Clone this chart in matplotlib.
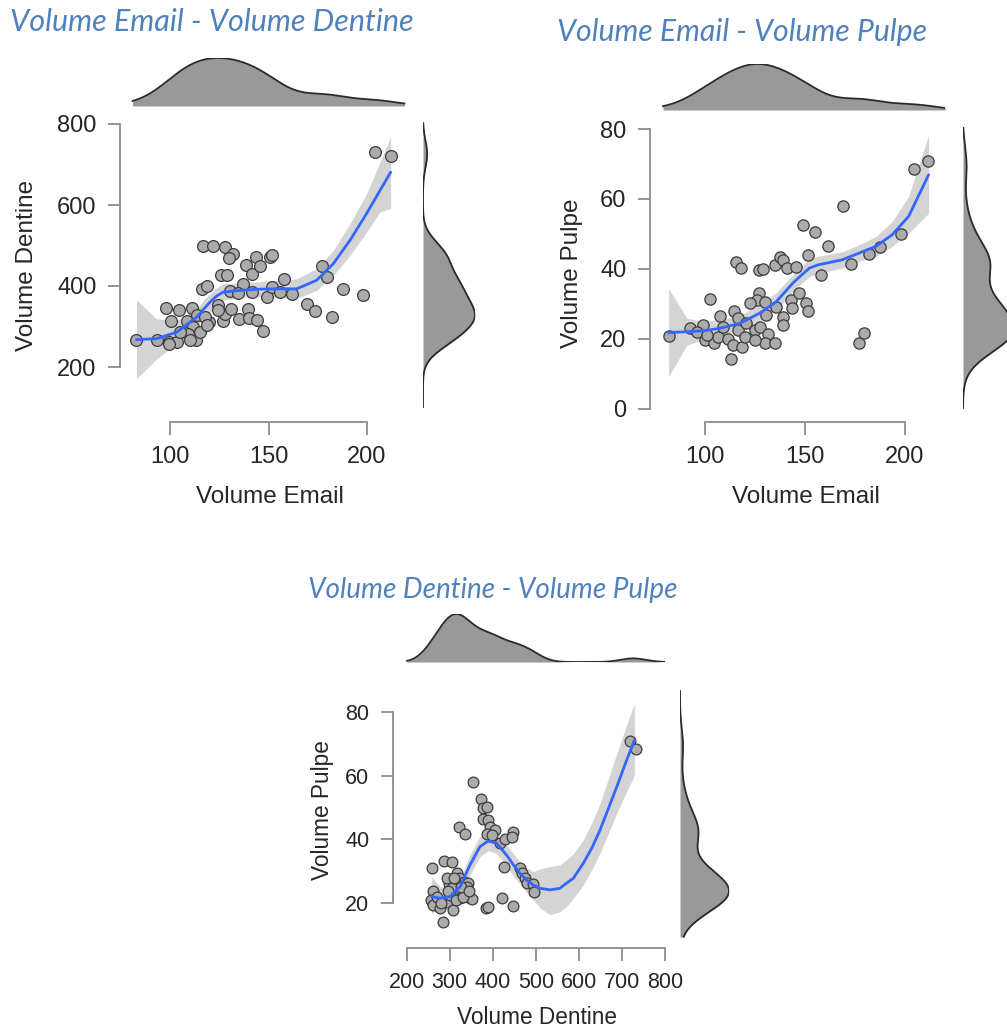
import numpy as np
import matplotlib
matplotlib.use("Agg")
import matplotlib.pyplot as plt

plt.rcParams['font.family'] = ['Liberation Sans', 'DejaVu Sans']

# panel 1 : Volume Email vs Volume Dentine
p1_email = [82.6, 93.2, 99.5, 103.7, 98, 104.6, 111, 100.3, 108.5, 113.5, 111.8, 109.3, 113, 110,
            116, 118.6, 117, 121.7, 128, 131.9, 130, 126, 129, 124.5, 120, 118, 126.7, 128, 131,
            130.5, 137, 134.7, 138.4, 141.5, 143.7, 145.7, 151, 152, 135, 139.8, 140, 144, 147,
            141.5, 149, 151.6, 155.8, 158, 161.8, 169.4, 173.6, 177.3, 179.9, 182.4, 188, 198,
            204, 212, 99.7, 105, 115, 119, 124.5]
p1_dentine = [266, 266, 262, 262, 346, 340, 346, 313, 314, 328, 299, 281, 266, 266, 393, 400,
              498, 498, 497, 480, 470, 426, 426, 352, 311, 323, 313, 332, 342, 387, 406, 383,
              452, 430, 471, 449, 471, 476, 319, 344, 322, 317, 290, 385, 373, 397, 385, 418,
              381, 355, 338, 449, 422, 323, 392, 379, 731, 720, 257, 287, 287, 303, 340]
p1_fit_x = [83, 93.2, 103.4, 113.5, 116.9, 120.3, 123.6, 127, 135.5, 144, 154.1, 164.3, 174.4,
            182.9, 191.4, 199.8, 206.6, 212]
p1_fit = [267.5, 270, 286, 323, 342, 360, 375, 385, 389, 392, 393, 393, 414, 455, 513, 579, 636, 681]
p1_lo = [171, 220, 258, 299, 320, 336, 352, 365, 371, 374, 373, 369, 389, 426, 476, 533, 583, 591]
p1_hi = [365, 319, 315, 344, 364, 381, 395, 406, 407, 410, 414, 418, 443, 488, 554, 628, 706, 768]

# panel 2 : Volume Email vs Volume Pulpe
p2_email = [81.8, 92.5, 99.2, 95.9, 100, 104.5, 102.5, 107.5, 106.6, 111.3, 114.4, 115.4, 118.2,
            113.2, 114, 116.6, 118.5, 116.6, 119.9, 120.7, 124.8, 127, 129, 127, 126, 129.8,
            127.3, 130.6, 131.5, 129.8, 134.8, 135.6, 135.1, 137.3, 139.2, 141, 145.5, 139.2,
            139.2, 143, 143.5, 146.9, 150.5, 151.3, 148.8, 151.3, 155.1, 158, 161.3, 169.2,
            173.2, 177, 179.5, 182, 187.7, 198, 204.3, 211.4, 122.4, 124.8, 109.1, 100.8]
p2_pulpe = [20.8, 23, 24, 22, 19.7, 18.7, 31.3, 26.5, 20.6, 19.8, 28, 42, 40.2, 14.1, 18.2, 22.5,
            17.6, 25.9, 20.6, 24.4, 22.5, 39.7, 39.9, 33, 31.1, 30.6, 23.5, 26.8, 21.4, 18.9,
            18.9, 29.2, 41.1, 43.5, 42.6, 40.2, 40.5, 26.3, 24, 31.1, 28.7, 33.2, 30.2, 28, 52.6,
            44, 50.4, 38.3, 46.4, 58.1, 41.4, 18.9, 21.6, 44.2, 46.2, 50, 68.5, 70.9, 30.2, 19.7,
            23.5, 21.1]
p2_fit_x = [81.8, 90.9, 99.2, 107.5, 117.4, 127.3, 135.6, 143.9, 148, 152.2, 156.3, 160.4, 168.7,
            177, 185.3, 193.5, 201.8, 211.8]
p2_fit = [21.8, 22, 22.3, 23, 24.4, 27.3, 30.6, 35.9, 38.1, 40.2, 41.1, 41.6, 42.6, 44.5, 46.4,
          49.7, 55, 66.9]
p2_lo = [9.2, 18.2, 19.7, 20.8, 22.3, 25.2, 28.2, 33.5, 35.7, 37.8, 38.7, 39.2, 40.2, 42.1, 43.5,
         46.4, 50.2, 55.9]
p2_hi = [34.4, 25.9, 24.9, 25.4, 26.8, 29.7, 33.2, 38.3, 40.6, 43, 43.6, 44, 44.9, 46.9, 49.2,
         53.5, 60.7, 78.3]

# panel 3 : Volume Dentine vs Volume Pulpe
p3_dentine = [258, 262, 256, 262, 277, 285, 287, 306, 293, 299, 308, 310, 322, 336, 316, 322,
              332, 343, 338, 346, 351, 324, 312, 353, 373, 377, 386, 378, 390, 394, 405, 386,
              398, 417, 429, 448, 444, 425, 421, 447, 384, 390, 463, 467, 475, 479, 494, 496,
              719, 733, 293, 305, 270, 280, 300, 315, 330, 340, 310, 295, 325, 345]
p3_pulpe = [31.2, 24, 21, 19.5, 18.4, 14.1, 33.3, 33, 20.5, 26, 18, 23.1, 44, 41.6, 29.4, 27.8,
            26.8, 26.3, 23.1, 21.6, 21.3, 21.6, 26.8, 58.1, 52.8, 49.9, 50.2, 46.3, 46.1, 44,
            43.1, 41.6, 41.4, 38.8, 40, 42.4, 40.9, 31.3, 21.6, 19, 18.6, 18.7, 31, 29.4, 27.8,
            26.5, 26, 23.6, 70.8, 68.3, 27.8, 24.7, 22, 20, 22.5, 21, 22, 25, 28, 24, 25, 24]
p3_fit_x = [258, 277, 300, 324, 347, 370, 389, 409, 432, 448, 463, 478, 494, 510, 533, 556, 571,
            587, 610, 630, 649, 668, 688, 708, 729]
p3_fit = [22.1, 21.6, 22.1, 25.2, 32, 37.7, 39.5, 38.8, 35.1, 32, 29.4, 27.3, 25.7, 24.7, 24.2,
          24.7, 26.3, 27.8, 32.5, 37.3, 42.9, 49.5, 56.5, 63.8, 71.1]
p3_lo = [16.9, 18.4, 19.8, 22.6, 28.9, 34.6, 36.5, 35.6, 31.7, 28.6, 26, 23.4, 21, 18.5, 16.4,
         17.4, 19, 21.5, 25.7, 30.5, 35.6, 41.8, 48.2, 54.1, 60.1]
p3_hi = [28.3, 25.2, 24.7, 27.8, 35.1, 40.9, 42.4, 41.4, 38.2, 35.5, 33, 31.2, 29.9, 30.8, 31.5,
         32, 33.6, 35.5, 39.8, 45.2, 51.3, 58.8, 66.9, 74.8, 82.6]

W, H = 1007, 1030
BLUE = '#4F81BD'
AXC = '#8c8c8c'
TXT = '#262626'


def place(fig, l, t, r, b):
    return fig.add_axes([l / W, 1 - b / H, (r - l) / W, (b - t) / H])


def lims(p_lo, p_hi, cal):
    (v1, q1), (v2, q2) = cal
    s = (q2 - q1) / (v2 - v1)
    return v1 + (p_lo - q1) / s, v1 + (p_hi - q1) / s


def kde(values, grid):
    v = np.asarray(values, float)
    n = len(v)
    iqr = np.subtract(*np.percentile(v, [75, 25]))
    bw = 0.9 * min(v.std(ddof=1), iqr / 1.34) * n ** -0.2
    z = (grid[:, None] - v[None, :]) / bw
    return np.exp(-0.5 * z ** 2).sum(1) / (n * bw * np.sqrt(2 * np.pi))


def panel(fig, x, y, fx, ff, flo, fhi, cfg):
    l, t, r, b = cfg['box']
    ax = place(fig, l, t, r, b)
    ax.set_xlim(lims(l, r, cfg['xcal']))
    ax.set_ylim(lims(b, t, cfg['ycal']))
    ax.fill_between(fx, flo, fhi, color='#d4d4d4', lw=0, zorder=1)
    ax.scatter(x, y, s=cfg['ms'], facecolor='#ababab', edgecolor='#3c3c3c', lw=0.9, zorder=2)
    ax.plot(fx, ff, color='#3366FF', lw=2.0, zorder=3, solid_capstyle='round',
            solid_joinstyle='round')
    for side in ['top', 'right']:
        ax.spines[side].set_visible(False)
    ax.spines['left'].set_bounds(cfg['yticks'][0], cfg['yticks'][-1])
    ax.spines['bottom'].set_bounds(cfg['xticks'][0], cfg['xticks'][-1])
    for side in ['left', 'bottom']:
        ax.spines[side].set_color(AXC)
        ax.spines[side].set_linewidth(1.3)
    ax.set_xticks(cfg['xticks'])
    ax.set_yticks(cfg['yticks'])
    ax.tick_params(length=9, width=1.3, color=AXC, labelcolor=TXT,
                   labelsize=cfg['fs'], pad=8)
    ax.set_xlabel(cfg['xlabel'], fontsize=cfg['lfs'], color=TXT, va='center')
    ax.set_ylabel(cfg['ylabel'], fontsize=cfg['lfs'], color=TXT, va='center')
    ax.xaxis.set_label_coords(cfg['xlab_pos'][0] / W, 1 - cfg['xlab_pos'][1] / H,
                              transform=fig.transFigure)
    ax.yaxis.set_label_coords(cfg['ylab_pos'][0] / W, 1 - cfg['ylab_pos'][1] / H,
                              transform=fig.transFigure)

    # top marginal density
    mt, mb = cfg['top_marg']
    axt = place(fig, l, mt, r, mb)
    g = np.linspace(*cfg['top_grid'], 300)
    d = kde(x, g)
    axt.fill_between(g, 0, d, color='#999999', lw=0)
    axt.plot(g, d, color='#2a2a2a', lw=1.3)
    axt.set_xlim(ax.get_xlim())
    axt.set_ylim(0, d.max())
    axt.axis('off')

    # right marginal density
    ml, mr = cfg['right_marg']
    axr = place(fig, ml, t, mr, b)
    g = np.linspace(*cfg['right_grid'], 300)
    d = kde(y, g)
    axr.fill_betweenx(g, 0, d, color='#999999', lw=0)
    axr.plot(d, g, color='#2a2a2a', lw=1.3)
    axr.set_ylim(ax.get_ylim())
    axr.set_xlim(0, d.max())
    axr.axis('off')

    tx, ty = cfg['title_pos']
    fig.text(tx / W, 1 - ty / H, cfg['title'], fontsize=cfg['tfs'], color=BLUE,
             family=['Lato', 'DejaVu Sans'], style='italic', ha='left', va='center')
    return ax


fig = plt.figure(figsize=(W / 100, H / 100), dpi=100)

cfg1 = dict(box=(120, 112, 412, 422), xcal=((100, 170), (200, 367)),
            ycal=((200, 367), (800, 124)), xticks=[100, 150, 200], yticks=[200, 400, 600, 800],
            top_marg=(58, 106), top_grid=(81, 219), right_marg=(423, 475), right_grid=(101, 802),
            ms=72, fs=17, lfs=17.5, xlabel='Volume Email', ylabel='Volume Dentine',
            xlab_pos=(270, 497), ylab_pos=(27, 265),
            title='Volume Email - Volume Dentine', title_pos=(10, 22), tfs=22)
cfg2 = dict(box=(650, 118, 945, 422), xcal=((100, 705), (200, 905)),
            ycal=((0, 408.7), (80, 129)), xticks=[100, 150, 200], yticks=[0, 20, 40, 60, 80],
            top_marg=(64, 110), top_grid=(79, 221), right_marg=(963, 1014), right_grid=(0.2, 80.3),
            ms=66, fs=17, lfs=17.5, xlabel='Volume Email', ylabel='Volume Pulpe',
            xlab_pos=(806, 497), ylab_pos=(572, 273),
            title='Volume Email - Volume Pulpe', title_pos=(557, 32), tfs=21.8)
cfg3 = dict(box=(393, 690, 668, 948), xcal=((200, 406.7), (800, 665)),
            ycal=((20, 903.3), (80, 711.7)), xticks=[200, 300, 400, 500, 600, 700, 800],
            yticks=[20, 40, 60, 80], top_marg=(614, 662), top_grid=(200.7, 798),
            right_marg=(680, 729), right_grid=(9.5, 90.5),
            ms=60, fs=15.5, lfs=16.3, xlabel='Volume Dentine', ylabel='Volume Pulpe',
            xlab_pos=(537, 1018), ylab_pos=(322, 810),
            title='Volume Dentine - Volume Pulpe', title_pos=(308, 590), tfs=20.1)

panel(fig, p1_email, p1_dentine, p1_fit_x, p1_fit, p1_lo, p1_hi, cfg1)
panel(fig, p2_email, p2_pulpe, p2_fit_x, p2_fit, p2_lo, p2_hi, cfg2)
panel(fig, p3_dentine, p3_pulpe, p3_fit_x, p3_fit, p3_lo, p3_hi, cfg3)

fig.savefig('out.png', dpi=100, facecolor='white')
